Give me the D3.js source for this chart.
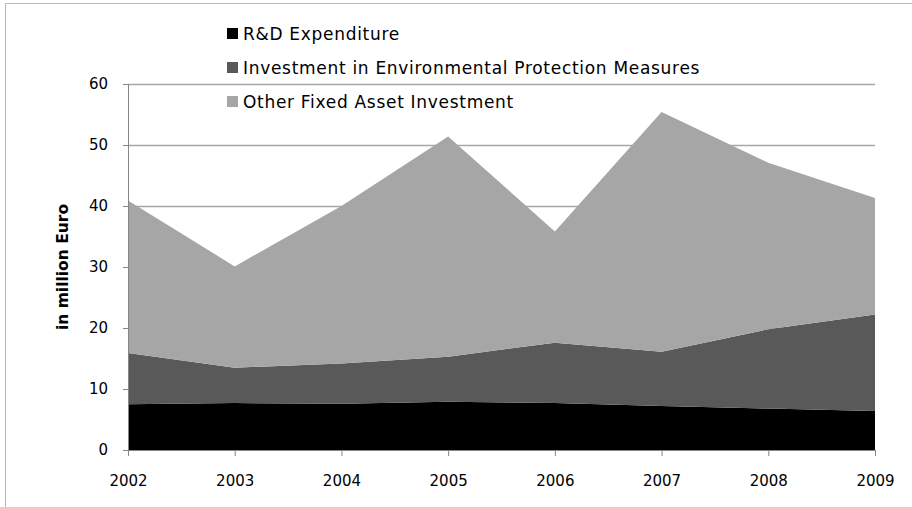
<!DOCTYPE html>
<html>
<head>
<meta charset="utf-8">
<script src="https://cdn.jsdelivr.net/npm/d3@7"></script>
<style>
  body { margin: 0; background: #fff; }
  svg { display: block; font-family: 'DejaVu Sans', sans-serif; }
</style>
</head>
<body>
<div id="graf"></div>
<script>
const years = ['2002', '2003', '2004', '2005', '2006', '2007', '2008', '2009']
const seriesNames = [
  'R&D Expenditure',
  'Investment in Environmental Protection Measures',
  'Other Fixed Asset Investment'
]
const rnd = [7.5, 7.7, 7.6, 7.9, 7.7, 7.2, 6.8, 6.4]
const envInv = [8.4, 5.8, 6.6, 7.4, 9.9, 8.9, 13.0, 15.8]
const otherInv = [25.0, 16.6, 25.8, 36.1, 18.2, 39.3, 27.3, 19.1]
const yTicks = [0, 10, 20, 30, 40, 50, 60]
const colores = ['#000000', '#595959', '#a6a6a6']

const anchoTotal = 912
const altoTotal = 507

const margin = { top: 84, bottom: 57, left: 128, right: 37 }
const ancho = anchoTotal - margin.left - margin.right
const alto = altoTotal - margin.top - margin.bottom

const svg = d3.select('#graf')
  .append('svg')
  .attr('width', anchoTotal)
  .attr('height', altoTotal)

// outer frame
svg.append('rect')
  .attr('x', 5.5)
  .attr('y', 3.5)
  .attr('width', 940)
  .attr('height', 540)
  .attr('fill', 'none')
  .attr('stroke', '#b8b8b8')

const g = svg.append('g')
  .attr('transform', `translate(${margin.left}, ${margin.top})`)

const table = years.map((yr, i) => ({
  year: yr,
  s0: rnd[i],
  s1: envInv[i],
  s2: otherInv[i]
}))

const stack = d3.stack().keys(['s0', 's1', 's2'])
const capas = stack(table)

const x = d3.scalePoint()
  .domain(years)
  .range([0, ancho])

const y = d3.scaleLinear()
  .domain([0, 60])
  .range([alto, 0])

// gridlines
g.append('g')
  .selectAll('line')
  .data(yTicks.filter(d => d > 0))
  .enter()
  .append('line')
  .attr('x1', 0)
  .attr('x2', ancho)
  .attr('y1', d => Math.round(y(d)) + 0.5)
  .attr('y2', d => Math.round(y(d)) + 0.5)
  .attr('stroke', '#a6a6a6')
  .attr('stroke-width', 1.3)

const area = d3.area()
  .x(d => x(d.data.year))
  .y0(d => y(d[0]))
  .y1(d => y(d[1]))

g.selectAll('path.capa')
  .data(capas)
  .enter()
  .append('path')
  .attr('class', 'capa')
  .attr('d', area)
  .attr('fill', (d, i) => colores[i])

// axes
const yAxis = g.append('g')
  .call(d3.axisLeft(y).tickValues(yTicks).tickSize(5).tickPadding(15))
yAxis.select('.domain').attr('stroke', '#868686')
yAxis.selectAll('.tick line').attr('stroke', '#868686')
yAxis.selectAll('text')
  .attr('font-size', 15)
  .attr('fill', '#000')
  .attr('font-family', 'DejaVu Sans')

const xAxis = g.append('g')
  .attr('transform', `translate(0, ${alto})`)
  .call(d3.axisBottom(x).tickSize(6).tickPadding(19).tickSizeOuter(0))
xAxis.select('.domain').attr('stroke', '#868686')
xAxis.selectAll('.tick line').attr('stroke', '#868686')
xAxis.selectAll('text')
  .attr('font-size', 15)
  .attr('fill', '#000')
  .attr('font-family', 'DejaVu Sans')

// y label
svg.append('text')
  .attr('transform', `translate(68, ${margin.top + y(30)}) rotate(-90)`)
  .attr('text-anchor', 'middle')
  .attr('font-size', 15.5)
  .attr('font-weight', 'bold')
  .text('in million Euro')

// legend
const legend = svg.append('g')
  .attr('transform', 'translate(227, 33)')

const item = legend.selectAll('g')
  .data(seriesNames)
  .enter()
  .append('g')
  .attr('transform', (d, i) => `translate(0, ${i * 34})`)

item.append('rect')
  .attr('x', 0)
  .attr('y', -5)
  .attr('width', 11)
  .attr('height', 11)
  .attr('fill', (d, i) => colores[i])

item.append('text')
  .attr('x', 16)
  .attr('y', 6.5)
  .attr('font-size', 17)
  .attr('letter-spacing', 0.7)
  .attr('fill', '#000')
  .text(d => d)
</script>
</body>
</html>
